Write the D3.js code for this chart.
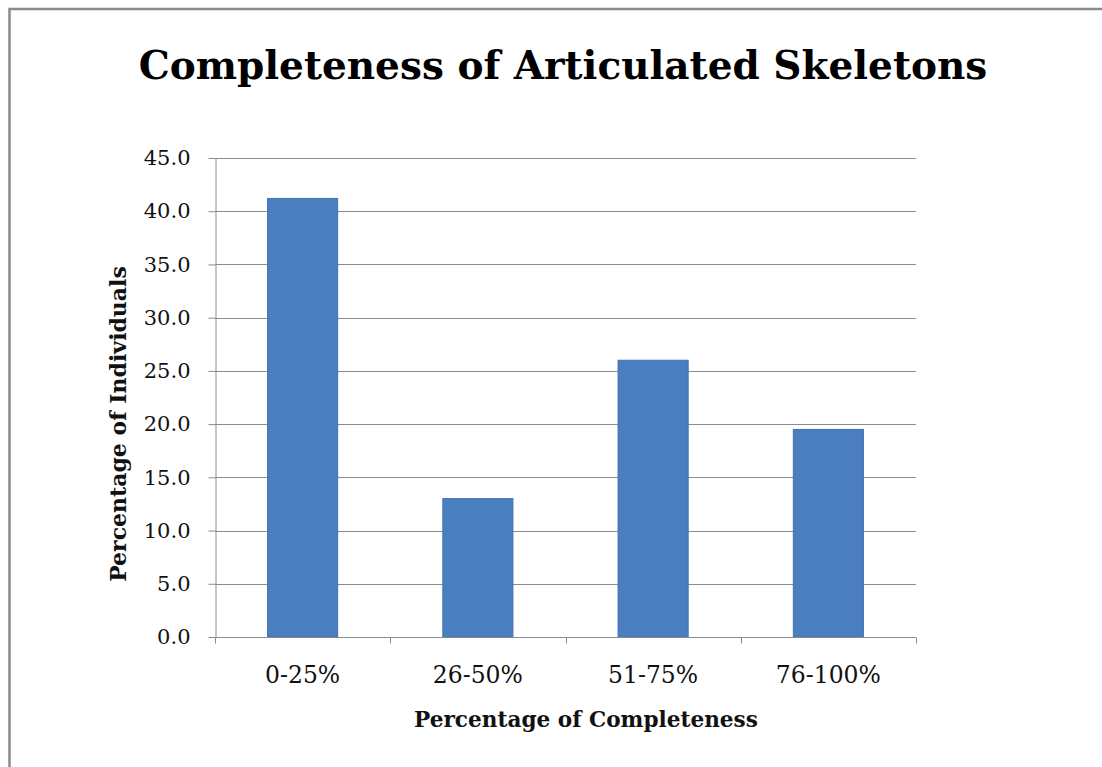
<!DOCTYPE html>
<html>
<head>
<meta charset="utf-8">
<script src="https://cdn.jsdelivr.net/npm/d3@7"></script>
<style>
  html, body { margin: 0; padding: 0; background: #fff; }
  svg { display: block; }
</style>
</head>
<body>
<script>
// Completeness of articulated skeletons: share of individuals per completeness bin
const categories = ["0-25%", "26-50%", "51-75%", "76-100%"];
const values = [41.2, 13.0, 26.0, 19.5];
const yTicks = [0, 5, 10, 15, 20, 25, 30, 35, 40, 45];

const W = 1102, H = 767;
const margin = { left: 215, right: 1102 - 916, top: 158, bottom: 767 - 637 };
const serif = "'DejaVu Serif', serif";

const svg = d3.select("body").append("svg")
  .attr("width", W).attr("height", H);

// Frame: only the top and left edges show inside the page
svg.append("path")
  .attr("d", `M9.5,${H} V9 H${W}`)
  .attr("fill", "none").attr("stroke", "#8a8a8a").attr("stroke-width", 2.5);

const x = d3.scaleBand()
  .domain(categories)
  .range([margin.left, W - margin.right])
  .paddingInner(0.6).paddingOuter(0.3);

const y = d3.scaleLinear()
  .domain([0, 45])
  .range([H - margin.bottom, margin.top]);

// Horizontal gridlines
svg.append("g")
  .selectAll("line")
  .data(yTicks.filter(d => d > 0))
  .join("line")
  .attr("x1", margin.left).attr("x2", W - margin.right)
  .attr("y1", d => Math.round(y(d)) + 0.5).attr("y2", d => Math.round(y(d)) + 0.5)
  .attr("stroke", "#8c8c8c").attr("stroke-width", 1);

// Bars
svg.append("g")
  .selectAll("rect")
  .data(values)
  .join("rect")
  .attr("x", (d, i) => x(categories[i]))
  .attr("width", x.bandwidth())
  .attr("y", d => y(d))
  .attr("height", d => y(0) - y(d))
  .attr("fill", "#4a7ebf")
  .attr("stroke", "#3f72b8").attr("stroke-width", 1);

// Y axis
const yAxis = svg.append("g")
  .attr("transform", `translate(${margin.left + 0.5},0)`)
  .call(d3.axisLeft(y).tickValues(yTicks).tickFormat(d3.format(".1f")).tickSize(7).tickSizeOuter(0));
yAxis.select(".domain").attr("stroke", "#8c8c8c");
yAxis.selectAll(".tick line").attr("stroke", "#8c8c8c");
yAxis.selectAll(".tick text")
  .attr("font-family", serif).attr("font-size", 21).attr("fill", "#111")
  .attr("x", -25);

// X axis: tick marks sit on the category boundaries
const xAxisG = svg.append("g")
  .attr("transform", `translate(0,${Math.round(y(0)) + 0.5})`);
xAxisG.append("line")
  .attr("x1", margin.left).attr("x2", W - margin.right)
  .attr("stroke", "#8c8c8c");
const step = (W - margin.right - margin.left) / categories.length;
xAxisG.selectAll("line.b")
  .data(d3.range(categories.length + 1))
  .join("line").attr("class", "b")
  .attr("x1", i => Math.round(margin.left + i * step) + 0.5)
  .attr("x2", i => Math.round(margin.left + i * step) + 0.5)
  .attr("y1", 0).attr("y2", 6)
  .attr("stroke", "#8c8c8c");
xAxisG.selectAll("text")
  .data(categories)
  .join("text")
  .attr("x", d => x(d) + x.bandwidth() / 2)
  .attr("y", 45)
  .attr("text-anchor", "middle")
  .attr("font-family", serif).attr("font-size", 23.5).attr("fill", "#111")
  .text(d => d);

// Titles
svg.append("text")
  .attr("x", 563).attr("y", 79)
  .attr("text-anchor", "middle")
  .attr("font-family", serif).attr("font-weight", "bold").attr("font-size", 39)
  .attr("fill", "#000")
  .text("Completeness of Articulated Skeletons");

svg.append("text")
  .attr("x", 586).attr("y", 727)
  .attr("text-anchor", "middle")
  .attr("font-family", serif).attr("font-weight", "bold").attr("font-size", 21.6)
  .attr("fill", "#111")
  .text("Percentage of Completeness");

svg.append("text")
  .attr("transform", "translate(126,424) rotate(-90)")
  .attr("text-anchor", "middle")
  .attr("font-family", serif).attr("font-weight", "bold").attr("font-size", 22)
  .attr("fill", "#111")
  .text("Percentage of Individuals");
</script>
</body>
</html>
